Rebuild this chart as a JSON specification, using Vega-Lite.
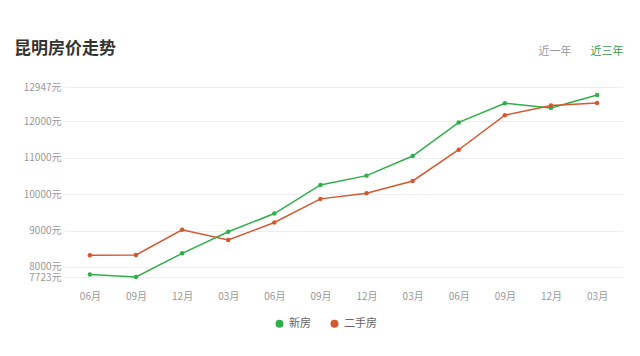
{
  "$schema": "https://vega.github.io/schema/vega-lite/v6.json",
  "width": 557,
  "height": 190,
  "autosize": {"type": "none"},
  "padding": {"left": 65, "top": 87, "right": 18, "bottom": 79},
  "background": "white",
  "config": {
    "font": "Noto Sans CJK SC",
    "view": {"stroke": null},
    "axis": {"labelFont": "Noto Sans CJK SC"},
    "legend": {"labelFont": "Noto Sans CJK SC"}
  },
  "title": {
    "text": "昆明房价走势",
    "anchor": "start",
    "frame": "group",
    "dx": -51,
    "offset": -12,
    "fontSize": 17,
    "fontWeight": "bold",
    "color": "#333333",
    "font": "Noto Sans CJK SC"
  },
  "data": {
    "values": [
      {"date": "2016-06", "type": "新房", "price": 7790},
      {"date": "2016-09", "type": "新房", "price": 7723},
      {"date": "2016-12", "type": "新房", "price": 8373},
      {"date": "2017-03", "type": "新房", "price": 8967},
      {"date": "2017-06", "type": "新房", "price": 9468},
      {"date": "2017-09", "type": "新房", "price": 10255},
      {"date": "2017-12", "type": "新房", "price": 10510},
      {"date": "2018-03", "type": "新房", "price": 11049},
      {"date": "2018-06", "type": "新房", "price": 11973},
      {"date": "2018-09", "type": "新房", "price": 12501},
      {"date": "2018-12", "type": "新房", "price": 12373},
      {"date": "2019-03", "type": "新房", "price": 12729},
      {"date": "2016-06", "type": "二手房", "price": 8318},
      {"date": "2016-09", "type": "二手房", "price": 8329},
      {"date": "2016-12", "type": "二手房", "price": 9022},
      {"date": "2017-03", "type": "二手房", "price": 8740},
      {"date": "2017-06", "type": "二手房", "price": 9222},
      {"date": "2017-09", "type": "二手房", "price": 9871},
      {"date": "2017-12", "type": "二手房", "price": 10027},
      {"date": "2018-03", "type": "二手房", "price": 10364},
      {"date": "2018-06", "type": "二手房", "price": 11222},
      {"date": "2018-09", "type": "二手房", "price": 12173},
      {"date": "2018-12", "type": "二手房", "price": 12438},
      {"date": "2019-03", "type": "二手房", "price": 12510}
    ]
  },
  "encoding": {
    "x": {
      "field": "date",
      "type": "ordinal",
      "sort": null,
      "scale": {"type": "point", "padding": 0.54},
      "axis": {
        "title": null,
        "labelAngle": 0,
        "labelExpr": "slice(datum.value, 5) + '月'",
        "labelFontSize": 10,
        "labelColor": "#999999",
        "labelPadding": 14,
        "ticks": false,
        "domain": false,
        "grid": false
      }
    },
    "y": {
      "field": "price",
      "type": "quantitative",
      "scale": {"domain": [7723, 12947], "zero": false, "nice": false},
      "axis": {
        "title": null,
        "values": [7723, 8000, 9000, 10000, 11000, 12000, 12947],
        "labelExpr": "datum.value + '元'",
        "labelFontSize": 10,
        "labelColor": "#999999",
        "labelPadding": 4,
        "labelOverlap": false,
        "labelBound": false,
        "ticks": false,
        "domain": false,
        "gridColor": "#eeeeee",
        "gridWidth": 1
      }
    },
    "color": {
      "field": "type",
      "type": "nominal",
      "scale": {"domain": ["新房", "二手房"], "range": ["#2fae4a", "#d4582f"]},
      "legend": {
        "title": null,
        "orient": "none",
        "direction": "horizontal",
        "legendX": 209,
        "legendY": 231,
        "symbolType": "circle",
        "symbolSize": 64,
        "symbolStrokeWidth": 0,
        "labelFontSize": 11,
        "labelColor": "#666666",
        "columnPadding": 18,
        "labelOffset": 4
      }
    }
  },
  "layer": [
    {"mark": {"type": "line", "strokeWidth": 1.5}},
    {"mark": {"type": "point", "filled": true, "size": 20, "opacity": 1}},
    {
      "transform": [{"filter": "datum.date == '2018-12' && datum.type == '新房'"}],
      "mark": {"type": "text", "text": "近一年", "fontSize": 11, "baseline": "middle", "align": "center", "dx": 4},
      "encoding": {
        "x": {"datum": "2018-12"},
        "y": {"datum": 13909},
        "color": {"value": "#999999"}
      }
    },
    {
      "transform": [{"filter": "datum.date == '2019-03' && datum.type == '新房'"}],
      "mark": {"type": "text", "text": "近三年", "fontSize": 11, "baseline": "middle", "align": "center", "dx": 10},
      "encoding": {
        "x": {"datum": "2019-03"},
        "y": {"datum": 13909},
        "color": {"value": "#3a9a52"}
      }
    }
  ]
}
